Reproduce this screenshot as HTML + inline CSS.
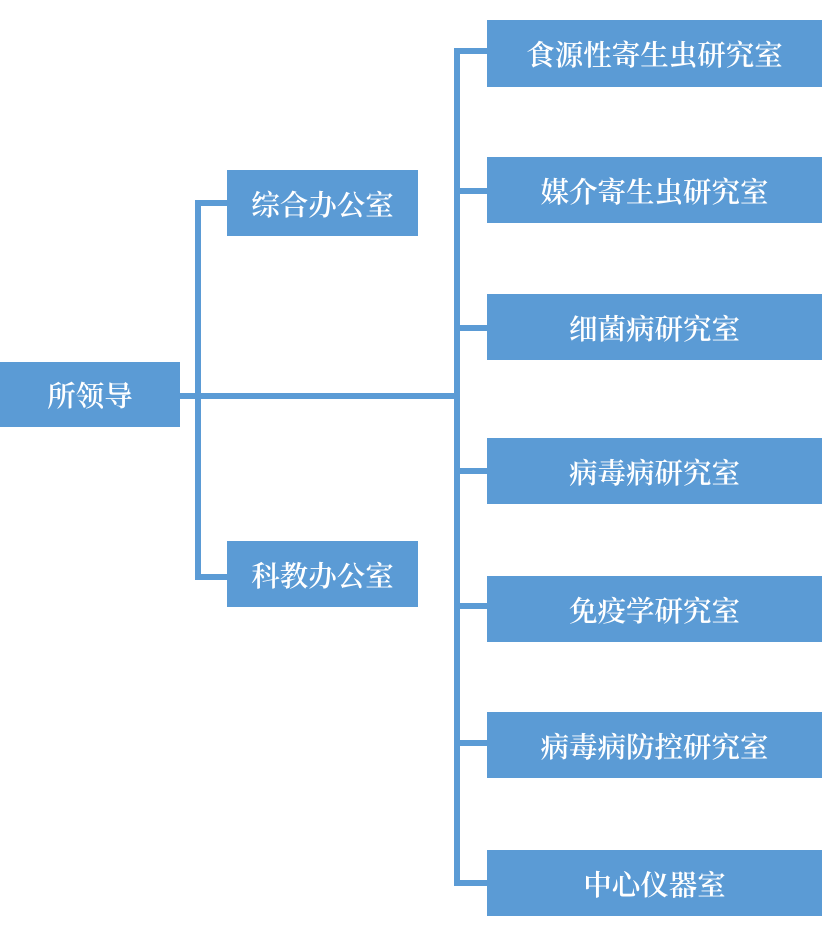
<!DOCTYPE html>
<html><head><meta charset="utf-8"><style>
body{margin:0;width:822px;height:947px;background:#fff;position:relative;overflow:hidden}
.b{position:absolute;background:#5b9bd5;color:#fff;font-family:"Liberation Serif","Noto Serif CJK SC",serif;font-size:28.5px;font-weight:600;display:flex;align-items:center;justify-content:center}
.l{position:absolute;background:#5b9bd5}
</style></head><body>
<div class="l" style="left:195px;top:200px;width:6px;height:380px"></div>
<div class="l" style="left:195px;top:200px;width:32px;height:6px"></div>
<div class="l" style="left:195px;top:574px;width:32px;height:6px"></div>
<div class="l" style="left:180px;top:393px;width:280px;height:6px"></div>
<div class="l" style="left:454px;top:48px;width:6px;height:838px"></div>
<div class="l" style="left:454px;top:48px;width:33px;height:6px"></div>
<div class="l" style="left:454px;top:188px;width:33px;height:6px"></div>
<div class="l" style="left:454px;top:325px;width:33px;height:6px"></div>
<div class="l" style="left:454px;top:468px;width:33px;height:6px"></div>
<div class="l" style="left:454px;top:603px;width:33px;height:6px"></div>
<div class="l" style="left:454px;top:740px;width:33px;height:6px"></div>
<div class="l" style="left:454px;top:880px;width:33px;height:6px"></div>
<div class="b" style="left:0;top:362px;width:180px;height:65px">所领导</div>
<div class="b" style="left:227px;top:170px;width:191px;height:66px">综合办公室</div>
<div class="b" style="left:227px;top:541px;width:191px;height:66px">科教办公室</div>
<div class="b" style="left:487px;top:20px;width:335px;height:67px">食源性寄生虫研究室</div>
<div class="b" style="left:487px;top:157px;width:335px;height:66px">媒介寄生虫研究室</div>
<div class="b" style="left:487px;top:294px;width:335px;height:66px">细菌病研究室</div>
<div class="b" style="left:487px;top:438px;width:335px;height:66px">病毒病研究室</div>
<div class="b" style="left:487px;top:576px;width:335px;height:66px">免疫学研究室</div>
<div class="b" style="left:487px;top:712px;width:335px;height:66px">病毒病防控研究室</div>
<div class="b" style="left:487px;top:850px;width:335px;height:66px">中心仪器室</div>
</body></html>
